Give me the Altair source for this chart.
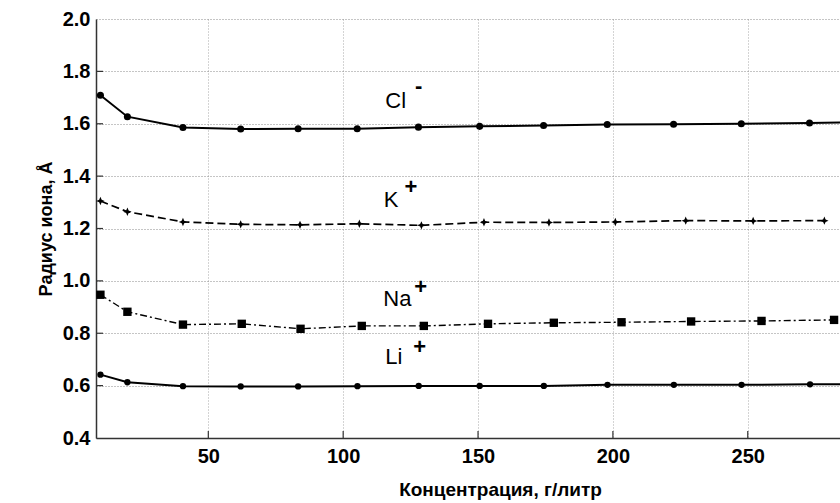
import altair as alt
import pandas as pd

# Ion radius (Å) versus concentration (g/litre)
cl_x = [10, 20, 40.6, 62, 83.3, 105.2, 127.9, 150.6, 174.3, 197.9, 222.5, 247.6, 272.9, 297]
cl_y = [1.709, 1.627, 1.586, 1.580, 1.581, 1.581, 1.587, 1.590, 1.593, 1.597, 1.598, 1.600, 1.603, 1.606]

k_x = [10, 20, 40.6, 62, 84, 106, 129, 152.2, 176.3, 200.9, 227, 252, 278.4]
k_y = [1.305, 1.264, 1.225, 1.216, 1.214, 1.218, 1.212, 1.224, 1.223, 1.225, 1.230, 1.229, 1.230]

na_x = [10, 20, 40.6, 62.4, 84.2, 106.9, 129.9, 153.7, 178.1, 203.2, 229, 255.1, 282]
na_y = [0.947, 0.882, 0.833, 0.836, 0.817, 0.828, 0.828, 0.836, 0.840, 0.842, 0.845, 0.847, 0.851]

li_x = [10, 20, 40.6, 62, 83.3, 105.3, 128, 150.6, 174.4, 198, 222.6, 247.7, 273.1, 297]
li_y = [0.642, 0.613, 0.598, 0.597, 0.597, 0.598, 0.599, 0.599, 0.599, 0.603, 0.603, 0.603, 0.605, 0.606]

x_ticks = [50, 100, 150, 200, 250]
y_ticks = [0.4, 0.6, 0.8, 1.0, 1.2, 1.4, 1.6, 1.8, 2.0]

# Ion names with their charge signs, placed in data coordinates
ion_names = ["Cl", "K", "Na", "Li"]
ion_name_x = [115.6, 115.0, 114.9, 115.6]
ion_name_y = [1.661, 1.284, 0.905, 0.682]
ion_charges = ["-", "+", "+", "+"]
ion_charge_x = [128.0, 125.1, 128.7, 128.4]
ion_charge_y = [1.744, 1.357, 0.977, 0.749]

W, H = 744, 419
FONT = "Liberation Sans"

x_scale = alt.Scale(domain=[8.36, 284.2], nice=False, zero=False)
y_scale = alt.Scale(domain=[0.4, 2.0], nice=False, zero=False)

x_enc = alt.X(
    "x:Q",
    scale=x_scale,
    axis=alt.Axis(
        values=x_ticks,
        format="d",
        title="Концентрация, г/литр",
        titleFont=FONT,
        titleFontSize=19,
        titleFontWeight="bold",
        titleColor="black",
        titleX=404,
        titleY=57,
        titleAlign="center",
        titleBaseline="alphabetic",
        labelFont=FONT,
        labelFontSize=20,
        labelFontWeight="bold",
        labelColor="black",
        labelPadding=8,
        tickSize=0,
        domainColor="#333333",
        domainWidth=1.5,
        grid=True,
        gridColor="#a8a8a8",
        gridDash=[1, 2],
        gridWidth=1,
    ),
)
y_enc = alt.Y(
    "y:Q",
    scale=y_scale,
    axis=alt.Axis(
        values=y_ticks,
        format=".1f",
        title="Радиус иона, Å",
        titleFont=FONT,
        titleFontSize=18,
        titleFontWeight="bold",
        titleColor="black",
        titleAngle=270,
        titleX=-45,
        titleY=H / 2,
        titleAlign="center",
        titleBaseline="alphabetic",
        labelFont=FONT,
        labelFontSize=20,
        labelFontWeight="bold",
        labelColor="black",
        labelPadding=6,
        tickSize=0,
        domainColor="#333333",
        domainWidth=1.5,
        grid=True,
        gridColor="#8a8a8a",
        gridDash=[1, 2],
        gridWidth=1,
    ),
)


def series(xs, ys, dash, width, shape, size):
    df = pd.DataFrame({"x": xs, "y": ys})
    base = alt.Chart(df)
    line_kw = dict(color="black", strokeWidth=width, clip=True)
    if dash:
        line_kw["strokeDash"] = dash
    line = base.mark_line(**line_kw).encode(x=x_enc, y=y_enc)
    pts = base.mark_point(
        filled=True, color="black", opacity=1, shape=shape, size=size, clip=True
    ).encode(x=x_enc, y=y_enc)
    return line + pts


star4 = "M0,-1L0.3,-0.3L1,0L0.3,0.3L0,1L-0.3,0.3L-1,0L-0.3,-0.3Z"

cl = series(cl_x, cl_y, None, 2, "circle", 50)
k = series(k_x, k_y, [8, 4], 1.7, star4, 70)
na = series(na_x, na_y, [7, 3, 2, 3], 1.4, "square", 70)
li = series(li_x, li_y, None, 2, "circle", 40)

# Inward tick marks along both axes
xt = alt.Chart(pd.DataFrame({"x": x_ticks})).mark_rule(
    color="#333333", strokeWidth=1.2
).encode(x=alt.X("x:Q", scale=x_scale), y=alt.value(H - 7), y2=alt.value(H))
yt = alt.Chart(pd.DataFrame({"y": y_ticks[1:-1]})).mark_rule(
    color="#333333", strokeWidth=1.2
).encode(y=alt.Y("y:Q", scale=y_scale), x=alt.value(0), x2=alt.value(7))

names = alt.Chart(
    pd.DataFrame({"x": ion_name_x, "y": ion_name_y, "t": ion_names})
).mark_text(
    font=FONT, fontSize=22, align="left", baseline="alphabetic", color="black"
).encode(x=alt.X("x:Q", scale=x_scale), y=alt.Y("y:Q", scale=y_scale), text="t:N")

charges = alt.Chart(
    pd.DataFrame({"x": ion_charge_x, "y": ion_charge_y, "t": ion_charges})
).mark_text(
    font=FONT, fontSize=22, fontWeight="bold", align="center", baseline="middle", color="black"
).encode(x=alt.X("x:Q", scale=x_scale), y=alt.Y("y:Q", scale=y_scale), text="t:N")

chart = (
    alt.layer(cl, k, na, li, xt, yt, names, charges)
    .properties(
        width=W,
        height=H,
        autosize=alt.AutoSizeParams(type="none"),
        padding={"left": 96, "top": 19, "right": 0, "bottom": 65},
        background="white",
    )
    .configure_view(strokeWidth=0)
)

chart.save("out.html", embed_options={"renderer": "svg", "actions": False})
